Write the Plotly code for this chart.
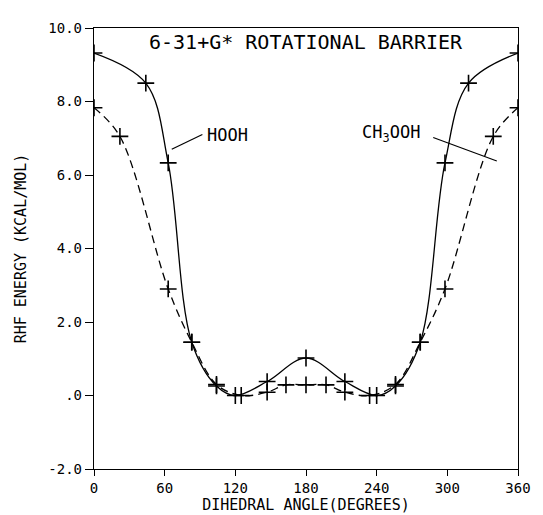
import plotly.graph_objects as go

# HOOH (solid)
hooh_angle = [0, 44, 63, 83, 104, 120, 147, 180, 213, 240, 256, 277, 298, 318, 360]
hooh_energy = [9.32, 8.50, 6.33, 1.45, 0.26, 0.0, 0.38, 1.02, 0.38, 0.0, 0.26, 1.45, 6.33, 8.50, 9.32]

# CH3OOH (dashed)
ch3_angle = [0, 22, 63, 83, 104, 125, 147, 163, 180, 197, 213, 234, 256, 277, 298, 339, 360]
ch3_energy = [7.83, 7.05, 2.90, 1.45, 0.30, 0.0, 0.09, 0.29, 0.29, 0.29, 0.09, 0.0, 0.30, 1.45, 2.90, 7.05, 7.83]

x_ticks = [0, 60, 120, 180, 240, 300, 360]
x_tick_labels = ["0", "60", "120", "180", "240", "300", "360"]
y_ticks = [-2, 0, 2, 4, 6, 8, 10]
y_tick_labels = ["-2.0", ".0", "2.0", "4.0", "6.0", "8.0", "10.0"]

FONT = "DejaVu Sans Mono"

fig = go.Figure()
fig.add_trace(go.Scatter(
    x=hooh_angle, y=hooh_energy, mode="lines+markers", name="HOOH",
    line=dict(color="black", width=1.3, shape="spline", smoothing=1.0),
    marker=dict(symbol="cross-thin", size=12, line=dict(color="black", width=1.6)),
    showlegend=False,
))
fig.add_trace(go.Scatter(
    x=ch3_angle, y=ch3_energy, mode="lines+markers", name="CH3OOH",
    line=dict(color="black", width=1.3, dash="8px,5px", shape="spline", smoothing=1.0),
    marker=dict(symbol="cross-thin", size=12, line=dict(color="black", width=1.6)),
    showlegend=False,
))

# leader lines for labels
fig.add_shape(type="line", x0=92, y0=7.1, x1=66, y1=6.7, line=dict(color="black", width=1.2))
fig.add_shape(type="line", x0=288, y0=7.02, x1=342, y1=6.38, line=dict(color="black", width=1.2))

fig.add_annotation(x=94, y=7.1, text="HOOH", showarrow=False, xanchor="left", yanchor="middle",
                   font=dict(family=FONT, size=17, color="black"))
fig.add_annotation(x=226, y=7.13, text="CH<sub>3</sub>OOH", showarrow=False, xanchor="left", yanchor="middle",
                   font=dict(family=FONT, size=17, color="black"))
fig.add_annotation(x=180, y=9.62, text="6-31+G* ROTATIONAL BARRIER", showarrow=False,
                   xanchor="center", yanchor="middle", font=dict(family=FONT, size=20, color="black"))

fig.update_xaxes(
    range=[0, 360], tickvals=x_ticks, ticktext=x_tick_labels,
    showline=True, linecolor="black", linewidth=1.4, mirror=True,
    ticks="outside", ticklen=6, tickcolor="black", tickwidth=1.4,
    showgrid=False, zeroline=False,
    tickfont=dict(family=FONT, size=14, color="black"),
    title=dict(text="DIHEDRAL ANGLE(DEGREES)", font=dict(family=FONT, size=15, color="black"), standoff=4),
)
fig.update_yaxes(
    range=[-2, 10], tickvals=y_ticks, ticktext=y_tick_labels,
    showline=True, linecolor="black", linewidth=1.4, mirror=True,
    ticks="outside", ticklen=8, tickcolor="black", tickwidth=1.4,
    showgrid=False, zeroline=False,
    tickfont=dict(family=FONT, size=14, color="black"),
    title=dict(text="RHF ENERGY (KCAL/MOL)", font=dict(family=FONT, size=15, color="black"), standoff=18),
)

fig.update_layout(
    width=543, height=515,
    margin=dict(l=84, r=33, t=16, b=48),
    paper_bgcolor="white", plot_bgcolor="white",
)

fig.write_html("out.html")
